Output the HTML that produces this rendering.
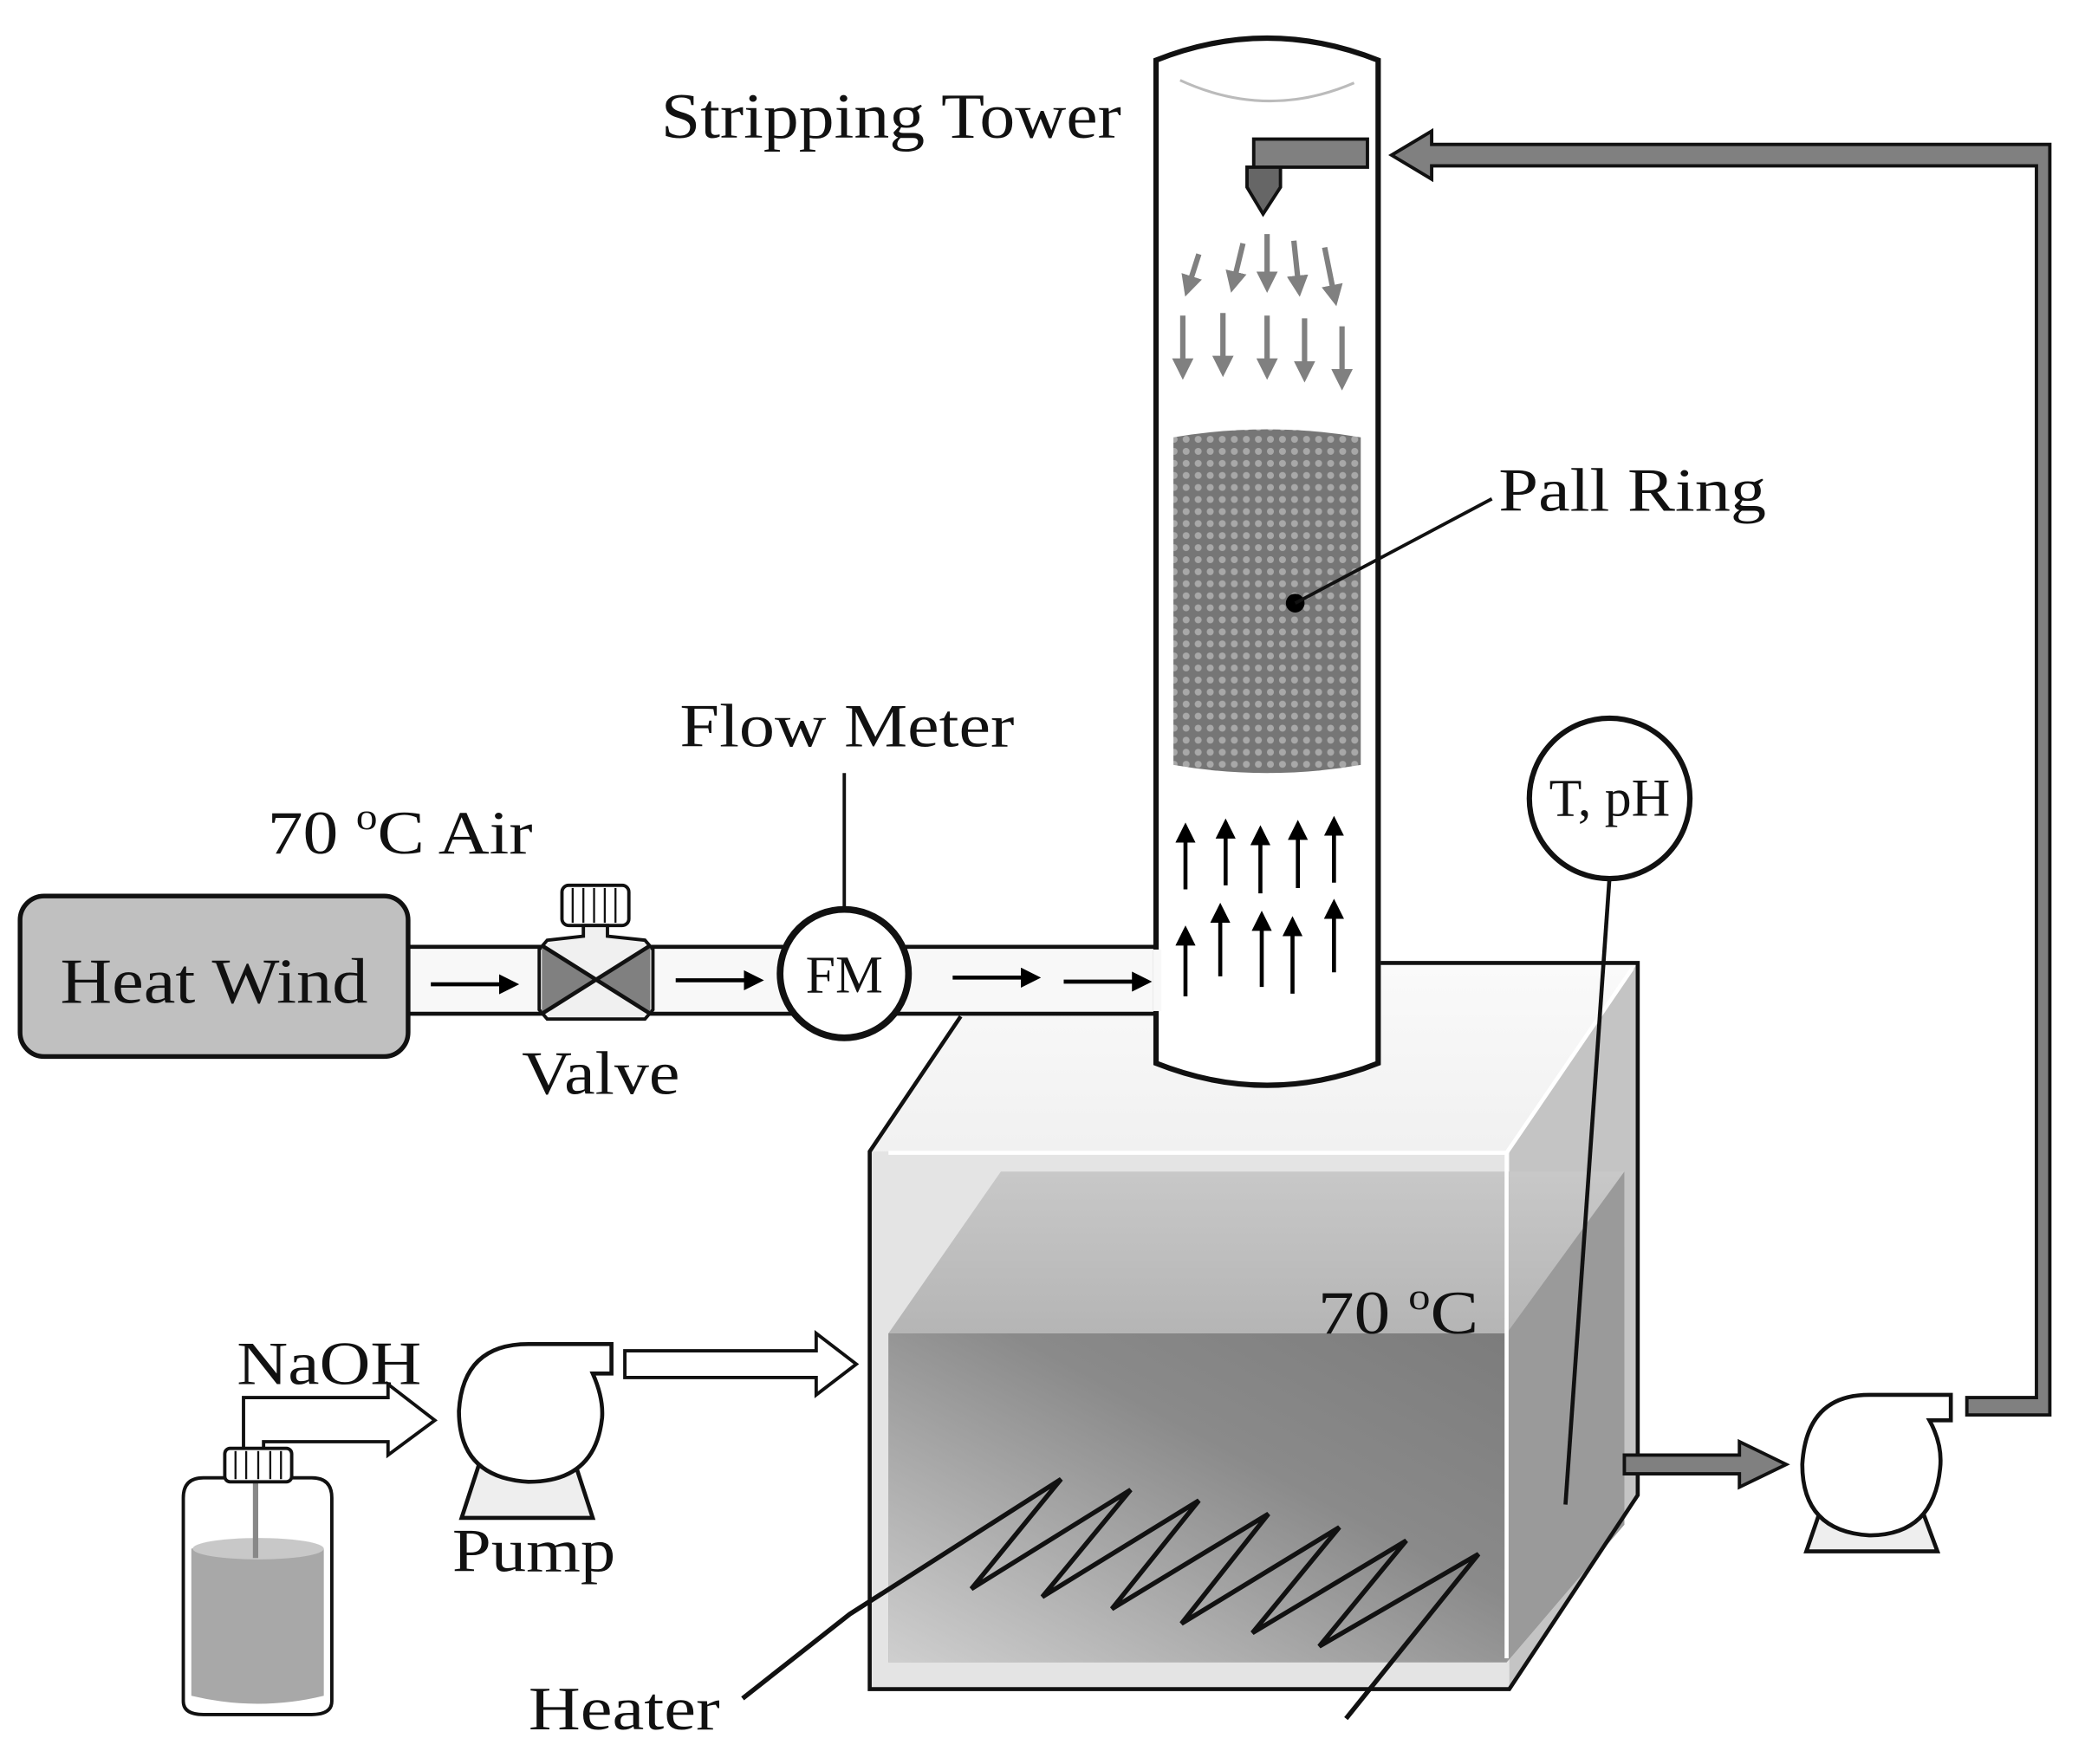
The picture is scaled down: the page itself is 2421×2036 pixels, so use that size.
<!DOCTYPE html>
<html><head><meta charset="utf-8"><style>
html,body{margin:0;padding:0;background:#fff;}
svg{display:block;}
text{font-family:"Liberation Serif",serif;fill:#111;}
</style></head><body>
<svg width="2421" height="2036" viewBox="0 0 1568 1319" preserveAspectRatio="none" xmlns="http://www.w3.org/2000/svg">
<defs>
<pattern id="pr" width="9" height="9" patternUnits="userSpaceOnUse">
<rect width="9" height="9" fill="#767676"/>
<circle cx="4.5" cy="4.5" r="2.6" fill="#a8a8a8"/>
</pattern>
<linearGradient id="water" x1="0" y1="1" x2="1" y2="0">
<stop offset="0" stop-color="#cfcfcf"/><stop offset="0.6" stop-color="#8a8a8a"/><stop offset="1" stop-color="#7c7c7c"/>
</linearGradient>
<linearGradient id="wtop" x1="0" y1="0" x2="0" y2="1">
<stop offset="0" stop-color="#c8c8c8"/><stop offset="1" stop-color="#8e8e8e"/>
</linearGradient>
<linearGradient id="btop" x1="0" y1="0" x2="0" y2="1">
<stop offset="0" stop-color="#fafafa"/><stop offset="1" stop-color="#d6d6d6"/>
</linearGradient>
<marker id="ab" markerWidth="5" markerHeight="5" refX="4" refY="2.5" orient="auto" markerUnits="strokeWidth"><path d="M0,0 L5,2.5 L0,5 z" fill="#000"/></marker>
<marker id="ag" markerWidth="4" markerHeight="4" refX="3" refY="2" orient="auto" markerUnits="strokeWidth"><path d="M0,0 L4,2 L0,4 z" fill="#808080"/></marker>
</defs>

<polygon points="650,861 718,760 718,720 1224,720 1224,1118 1128,1263 650,1263" fill="url(#btop)"/>
<polygon points="1128,861 1224,720 1224,1118 1128,1263" fill="#c4c4c4"/>
<polygon points="650,861 1128,861 1128,1263 650,1263" fill="#e4e4e4"/>
<polygon points="748,876 1214,876 1214,1140 1126,1243 664,1243 664,997" fill="url(#wtop)"/>
<polygon points="664,997 1126,997 1126,1243 664,1243" fill="url(#water)"/>
<polygon points="1126,997 1214,876 1214,1140 1126,1243" fill="#9a9a9a"/>
<polyline points="664,862 1126,862 1126,1240" fill="none" stroke="#fff" stroke-width="3"/>
<line x1="1126" y1="862" x2="1220" y2="724" stroke="#fff" stroke-width="3"/>
<polyline points="718,760 650,861 650,1263 1128,1263 1224,1118 1224,720 1032,720" fill="none" stroke="#111" stroke-width="3"/>
<text x="985" y="997" font-size="46" textLength="120" lengthAdjust="spacingAndGlyphs">70 <tspan font-size="28" dy="-18">o</tspan><tspan dy="18">C</tspan></text>

<polyline points="555,1270 635,1207 793,1106 726,1188 845,1114 779,1194 896,1122 831,1203 948,1132 883,1214 1001,1142 936,1221 1051,1152 986,1231 1105,1162 1006,1285" fill="none" stroke="#111" stroke-width="3.5" stroke-linejoin="miter"/>
<text x="395" y="1293" font-size="46" textLength="143" lengthAdjust="spacingAndGlyphs">Heater</text>

<rect x="305" y="708" width="560" height="50" fill="#f8f8f8"/>
<line x1="305" y1="708" x2="865" y2="708" stroke="#111" stroke-width="3"/>
<line x1="305" y1="758" x2="865" y2="758" stroke="#111" stroke-width="3"/>

<path d="M864,45 Q947,12 1030,45 L1030,795 Q947,828 864,795 Z" fill="#fff" stroke="#111" stroke-width="4"/>
<rect x="862" y="710" width="6" height="46" fill="#f8f8f8"/>
<path d="M882,60 Q947,90 1012,62" fill="none" stroke="#bbb" stroke-width="2"/>
<rect x="937" y="104" width="85" height="21" fill="#808080" stroke="#111" stroke-width="2.5"/>
<path d="M932,125 L957,125 L957,140 L944,160 L932,140 Z" fill="#666" stroke="#111" stroke-width="2.5"/>
<g stroke="#808080" stroke-width="4" marker-end="url(#ag)">
<line x1="896" y1="190" x2="887" y2="218"/>
<line x1="929" y1="182" x2="921" y2="215"/>
<line x1="947" y1="175" x2="947" y2="215"/>
<line x1="967" y1="180" x2="971" y2="218"/>
<line x1="990" y1="185" x2="998" y2="225"/>
<line x1="884" y1="236" x2="884" y2="280"/>
<line x1="914" y1="234" x2="914" y2="278"/>
<line x1="947" y1="236" x2="947" y2="280"/>
<line x1="975" y1="238" x2="975" y2="282"/>
<line x1="1003" y1="244" x2="1003" y2="288"/>
</g>
<path d="M877,327 Q947,315 1017,327 L1017,572 Q947,584 877,572 Z" fill="url(#pr)"/>
<circle cx="968" cy="451" r="7" fill="#000"/>
<line x1="968" y1="451" x2="1115" y2="373" stroke="#111" stroke-width="2.5"/>
<text x="1120" y="382" font-size="46" textLength="200" lengthAdjust="spacingAndGlyphs">Pall Ring</text>
<g stroke="#000" stroke-width="3" marker-end="url(#ab)">
<line x1="886" y1="665" x2="886" y2="618"/>
<line x1="916" y1="662" x2="916" y2="615"/>
<line x1="942" y1="668" x2="942" y2="620"/>
<line x1="970" y1="664" x2="970" y2="616"/>
<line x1="997" y1="660" x2="997" y2="613"/>
<line x1="886" y1="745" x2="886" y2="695"/>
<line x1="912" y1="730" x2="912" y2="678"/>
<line x1="943" y1="738" x2="943" y2="684"/>
<line x1="966" y1="743" x2="966" y2="688"/>
<line x1="997" y1="727" x2="997" y2="675"/>
</g>
<text x="494" y="103" font-size="48" textLength="344" lengthAdjust="spacingAndGlyphs">Stripping Tower</text>

<path d="M1470,1045 L1522,1045 L1522,124 L1070,124 L1070,134 L1040,116 L1070,98 L1070,108 L1532,108 L1532,1058 L1470,1058 Z" fill="#808080" stroke="#111" stroke-width="2.5"/>

<rect x="15" y="670" width="290" height="120" rx="18" fill="#c0c0c0" stroke="#111" stroke-width="3.5"/>
<text x="45" y="750" font-size="48" textLength="230" lengthAdjust="spacingAndGlyphs">Heat Wind</text>
<text x="200" y="638" font-size="46" textLength="198" lengthAdjust="spacingAndGlyphs">70 <tspan font-size="28" dy="-18">o</tspan><tspan dy="18">C Air</tspan></text>

<rect x="420" y="662" width="50" height="30" rx="5" fill="#fff" stroke="#111" stroke-width="2.5"/>
<g stroke="#111" stroke-width="1.5"><line x1="428" y1="664" x2="428" y2="690"/><line x1="436" y1="664" x2="436" y2="690"/><line x1="444" y1="664" x2="444" y2="690"/><line x1="452" y1="664" x2="452" y2="690"/><line x1="460" y1="664" x2="460" y2="690"/></g>
<path d="M436,692 L454,692 L454,700 L482,703 L488,710 L488,755 L482,762 L409,762 L403,755 L403,710 L409,703 L436,700 Z" fill="#f0f0f0" stroke="#111" stroke-width="2.5"/>
<polygon points="405,707 445,733 405,758" fill="#808080"/>
<polygon points="486,707 446,733 486,758" fill="#808080"/>
<line x1="405" y1="707" x2="486" y2="758" stroke="#111" stroke-width="3"/>
<line x1="486" y1="707" x2="405" y2="758" stroke="#111" stroke-width="3"/>
<text x="390" y="818" font-size="46" textLength="118" lengthAdjust="spacingAndGlyphs">Valve</text>

<line x1="631" y1="578" x2="631" y2="678" stroke="#111" stroke-width="2.5"/>
<circle cx="631" cy="728" r="48" fill="#fff" stroke="#111" stroke-width="5"/>
<text x="631" y="742" font-size="40" text-anchor="middle">FM</text>
<text x="508" y="558" font-size="46" textLength="250" lengthAdjust="spacingAndGlyphs">Flow Meter</text>
<g stroke="#000" stroke-width="3" marker-end="url(#ab)">
<line x1="322" y1="736" x2="385" y2="736"/>
<line x1="505" y1="733" x2="568" y2="733"/>
<line x1="712" y1="731" x2="775" y2="731"/>
<line x1="795" y1="734" x2="858" y2="734"/>
</g>

<line x1="1203" y1="655" x2="1170" y2="1125" stroke="#111" stroke-width="3"/>
<circle cx="1203" cy="597" r="60" fill="#fff" stroke="#111" stroke-width="4"/>
<text x="1203" y="610" font-size="40" text-anchor="middle">T, pH</text>

<path d="M1214,1088 L1300,1088 L1300,1078 L1335,1095 L1300,1112 L1300,1102 L1214,1102 Z" fill="#808080" stroke="#111" stroke-width="2.5"/>

<polygon points="1350,1160 1448,1160 1435,1125 1362,1125" fill="#eee" stroke="#111" stroke-width="3"/>
<path d="M1420,1043 L1458,1043 L1458,1062 L1442,1062 Q1452,1080 1450,1098 Q1445,1148 1397,1148 Q1347,1145 1347,1095 Q1350,1043 1397,1043 Z" fill="#fff" stroke="#111" stroke-width="3"/>

<polygon points="345,1135 443,1135 430,1095 358,1095" fill="#eee" stroke="#111" stroke-width="3"/>
<path d="M418,1005 L457,1005 L457,1027 L443,1027 Q451,1045 450,1060 Q445,1108 395,1108 Q343,1105 343,1055 Q346,1005 395,1005 Z" fill="#fff" stroke="#111" stroke-width="3"/>
<text x="338" y="1175" font-size="46" textLength="122" lengthAdjust="spacingAndGlyphs">Pump</text>

<path d="M467,1010 L610,1010 L610,997 L640,1020 L610,1043 L610,1030 L467,1030 Z" fill="#fff" stroke="#111" stroke-width="2.5"/>

<text x="177" y="1035" font-size="46" textLength="138" lengthAdjust="spacingAndGlyphs">NaOH</text>
<path d="M182,1085 L182,1045 L290,1045 L290,1035 L325,1062 L290,1088 L290,1078 L197,1078 L197,1085" fill="#fff" stroke="#111" stroke-width="2.5"/>
<path d="M137,1120 Q137,1105 152,1105 L233,1105 Q248,1105 248,1120 L248,1272 Q248,1282 233,1282 L152,1282 Q137,1282 137,1272 Z" fill="#fff" stroke="#111" stroke-width="2.5"/>
<path d="M143,1158 Q193,1145 242,1158 L242,1268 Q193,1280 143,1268 Z" fill="#a8a8a8"/>
<ellipse cx="193" cy="1158" rx="49" ry="8" fill="#c8c8c8"/>
<line x1="191" y1="1105" x2="191" y2="1165" stroke="#888" stroke-width="4"/>
<rect x="168" y="1083" width="50" height="25" rx="4" fill="#fff" stroke="#111" stroke-width="2.5"/>
<g stroke="#111" stroke-width="1.5"><line x1="176" y1="1085" x2="176" y2="1106"/><line x1="184" y1="1085" x2="184" y2="1106"/><line x1="193" y1="1085" x2="193" y2="1106"/><line x1="202" y1="1085" x2="202" y2="1106"/><line x1="210" y1="1085" x2="210" y2="1106"/></g>
</svg>
</body></html>
